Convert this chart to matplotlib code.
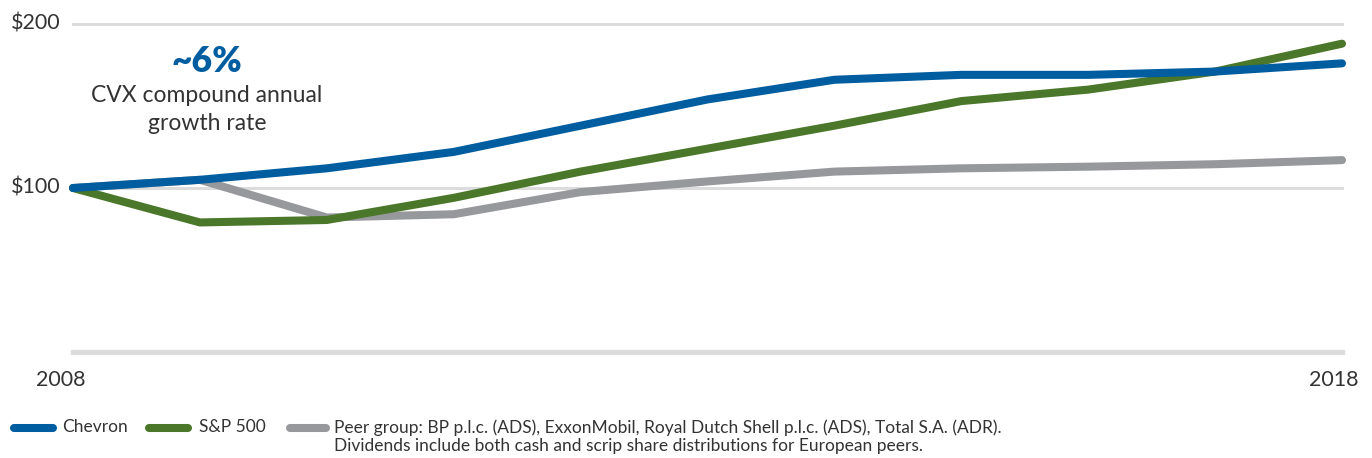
import matplotlib
matplotlib.use("Agg")
import matplotlib.pyplot as plt
from matplotlib.lines import Line2D

years = [2008, 2009, 2010, 2011, 2012, 2013, 2014, 2015, 2016, 2017, 2018]
chevron = [100, 105, 112, 122, 138, 154, 166, 169, 169, 171, 176]
sp500 = [100, 79, 80.5, 94, 110, 124, 138, 153, 160, 171, 188]
peers = [100, 105, 82, 84, 97.5, 104, 110, 112, 113, 114.5, 117]
ytick_vals = [100, 200]
ytick_labels = ["$100", "$200"]
series_names = ["Chevron", "S&P 500",
                "Peer group: BP p.l.c. (ADS), ExxonMobil, Royal Dutch Shell p.l.c. (ADS), Total S.A. (ADR).\nDividends include both cash and scrip share distributions for European peers."]

BLUE = "#005DA0"
GREEN = "#4A7729"
GRAY = "#97989B"
GRID = "#DCDCDC"
TXT = "#333333"

W, H = 1372, 458
fig = plt.figure(figsize=(W/100, H/100), dpi=100)
ax = fig.add_axes([73/W, 1-352/H, (1342-73)/W, (352-24)/H])
ax.set_xlim(2008, 2018)
ax.set_ylim(0, 200)
ax.axis("off")

for v in ytick_vals:
    ax.axhline(v, color=GRID, lw=2.2, zorder=1, clip_on=False)
ax.axhline(0, color=GRID, lw=3.8, zorder=1, clip_on=False)

lw = 5.8
ax.plot(years, peers, color=GRAY, lw=lw, solid_capstyle="round", solid_joinstyle="round", clip_on=False, zorder=2)
ax.plot(years, sp500, color=GREEN, lw=lw, solid_capstyle="round", solid_joinstyle="round", clip_on=False, zorder=3)
ax.plot(years, chevron, color=BLUE, lw=lw, solid_capstyle="round", solid_joinstyle="round", clip_on=False, zorder=4)

lab_font = "Lato"
for v, t in zip(ytick_vals, ytick_labels):
    ax.text(-0.010, v, t, transform=ax.get_yaxis_transform(), ha="right", va="center",
            fontsize=15.5, color=TXT, family=lab_font)
# year labels
fig.text(61/W, 1-380/H, str(years[0]), ha="center", va="center", fontsize=15.5, color=TXT, family=lab_font)
fig.text(1334/W, 1-380/H, str(years[-1]), ha="center", va="center", fontsize=15.5, color=TXT, family=lab_font)

# annotation
fig.text(207/W, 1-62/H, "~6%", ha="center", va="center", fontsize=25.5, fontweight="heavy", color=BLUE, family=lab_font)
fig.text(207/W, 1-96/H, "CVX compound annual", ha="center", va="center", fontsize=16.5, color=TXT, family=lab_font)
fig.text(207/W, 1-123/H, "growth rate", ha="center", va="center", fontsize=16.5, color=TXT, family=lab_font)

# legend
leg_font = "Lato"
ly = 1-428/H
entries = [(14, 53, 62, BLUE, series_names[0]),
           (149, 188, 199, GREEN, series_names[1]),
           (290, 326, 334, GRAY, series_names[2])]
for x0, x1, xt, c, name in entries:
    fig.add_artist(Line2D([x0/W, x1/W], [ly, ly], color=c, lw=5.8, solid_capstyle="round", transform=fig.transFigure))
    fig.text(xt/W, 1-419/H, name, ha="left", va="top", fontsize=12.5, color=TXT, family=leg_font, linespacing=1.2)

fig.savefig("out.png", dpi=100)
